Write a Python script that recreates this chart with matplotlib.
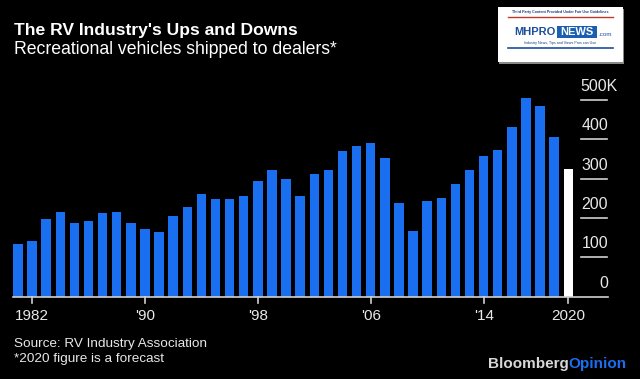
import matplotlib
matplotlib.use("Agg")
import matplotlib.pyplot as plt
from matplotlib.patches import Rectangle

plt.rcParams['font.family'] = ['Liberation Sans', 'DejaVu Sans']

years = list(range(1981, 2021))
shipments = [134, 141, 198, 216, 188, 192, 214, 216, 188, 173,
             164, 204, 229, 261, 249, 249, 257, 293, 321, 300,
             257, 311, 321, 370, 384, 391, 353, 237, 166, 242,
             252, 286, 321, 357, 374, 431, 505, 484, 406, 325]
bar_colors = ['#1a6ef0'] * 39 + ['#ffffff']
tick_years = [1982, 1990, 1998, 2006, 2014, 2020]
tick_labels = ['1982', "'90", "'98", "'06", "'14", '2020']
y_ticks = [0, 100, 200, 300, 400, 500]
y_labels = ['0', '100', '200', '300', '400', '500K']

W, H = 640, 379
fig = plt.figure(figsize=(6.4, 3.79), dpi=100, facecolor='black')

pitch = 14.11
x0px = 18.0  # center of first bar
left_px, right_px = 0.0, 640.0
xmin = 1981 + (left_px - x0px) / pitch
xmax = 1981 + (right_px - x0px) / pitch
base_px = 296.7
top_px = 100.0
ymax = 560
ax_bottom = (H - base_px) / H
ax_h = ((base_px - top_px) / H) * ymax / 500
ax = fig.add_axes([0, ax_bottom, 1, ax_h])
ax.set_facecolor('black')
ax.set_xlim(xmin, xmax)
ax.set_ylim(0, ymax)
ax.axis('off')

def px2yr(px):
    return 1981 + (px - x0px) / pitch

ax.bar(years, shipments, width=0.67, color=bar_colors, zorder=2)

# baseline
ax.plot([px2yr(13), px2yr(608)], [0, 0], color='#d0d0d0', lw=1.2, zorder=3, clip_on=False)

# y gridline segments and labels on right
for v, lab in zip(y_ticks, y_labels):
    if v > 0:
        ax.plot([px2yr(581), px2yr(607)], [v, v], color='#d0d0d0', lw=1.2, zorder=3)
    xr = px2yr(618 if lab.endswith('K') else 608)
    ax.text(xr, v + 34, lab, color='#e8e8e8', fontsize=11.5, ha='right', va='center')

# x ticks
for yr, lab in zip(tick_years, tick_labels):
    ax.plot([yr, yr], [0, -15], color='#d0d0d0', lw=1.2, clip_on=False, zorder=3)
    ax.text(yr, -50, lab, color='#e8e8e8', fontsize=11, ha='center', va='center')

# titles
fig.text(14 / W, 1 - 30.5 / H, "The RV Industry's Ups and Downs", color='white',
         fontsize=12.6, fontweight='bold', ha='left', va='center')
fig.text(14 / W, 1 - 50 / H, "Recreational vehicles shipped to dealers*", color='white',
         fontsize=12.7, ha='left', va='center')

# footer
fig.text(14 / W, 1 - 344 / H, "Source: RV Industry Association", color='#e8e8e8',
         fontsize=9.7, ha='left', va='center')
fig.text(14 / W, 1 - 359 / H, "*2020 figure is a forecast", color='#e8e8e8',
         fontsize=9.7, ha='left', va='center')
t1 = fig.text(488 / W, 1 - 364 / H, "Bloomberg", color='#d8d8d8',
              fontsize=11, fontweight='bold', ha='left', va='center')
fig.canvas.draw()
bb = t1.get_window_extent()
fig.text(bb.x1 / W, 1 - 364 / H, "Opinion", color='#1a6ef0',
         fontsize=11, fontweight='bold', ha='left', va='center')

# logo imitation
lx0, lx1, ly0, ly1 = 498, 623, 7, 62
fig.patches.append(Rectangle((lx0 / W + 0.002, 1 - (ly1 + 2) / H), (lx1 - lx0) / W, (ly1 - ly0) / H,
                             transform=fig.transFigure, facecolor='#888888', edgecolor='none'))
fig.patches.append(Rectangle((lx0 / W, 1 - ly1 / H), (lx1 - lx0) / W, (ly1 - ly0) / H,
                             transform=fig.transFigure, facecolor='white', edgecolor='none'))
cx = (lx0 + lx1) / 2
fig.text(cx / W, 1 - 11.5 / H, "Third Party Content Provided Under Fair Use Guidelines",
         color='#1b3d7a', fontsize=2.6, ha='center', va='center', fontweight='bold')
fig.add_artist(plt.Line2D([(lx0 + 10) / W, (lx1 - 10) / W], [1 - 17 / H, 1 - 17 / H],
                          color='#c0392b', lw=1.0, transform=fig.transFigure))
fig.text(556 / W, 1 - 32 / H, "MHPRO", color='#1b4f9c', fontsize=8,
         fontweight='bold', ha='right', va='center')
fig.patches.append(Rectangle((557 / W, 1 - 38 / H), 40 / W, 12 / H,
                             transform=fig.transFigure, facecolor='#1b5fb0', edgecolor='none'))
fig.text(577 / W, 1 - 32 / H, "NEWS", color='white', fontsize=8,
         fontweight='bold', ha='center', va='center')
fig.text(598 / W, 1 - 34 / H, ".com", color='#1b4f9c', fontsize=4.5, ha='left', va='center')
fig.text(cx / W, 1 - 43 / H, "Industry News, Tips and Views Pros can Use",
         color='#1b3d7a', fontsize=2.6, ha='center', va='center')
fig.add_artist(plt.Line2D([(lx0 + 10) / W, (lx1 - 10) / W], [1 - 48 / H, 1 - 48 / H],
                          color='#1b4f9c', lw=1.2, transform=fig.transFigure))

fig.savefig('out.png', dpi=100, facecolor='black')
